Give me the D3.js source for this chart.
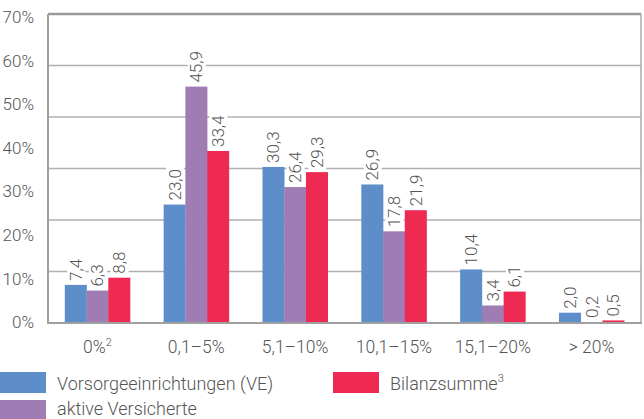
<!DOCTYPE html>
<html><head><meta charset="utf-8">
<script src="https://cdn.jsdelivr.net/npm/d3@7"></script>
<style>
body{margin:0;background:#fff;}
svg{display:block;font-family:Roboto,"Noto Sans",sans-serif;font-weight:300;}
</style></head>
<body><svg id="c" width="644" height="419"></svg>
<script>
const categories = ["0%", "0,1–5%", "5,1–10%", "10,1–15%", "15,1–20%", "> 20%"];
const categorySup = ["2", "", "", "", "", ""];
const seriesNames = ["Vorsorgeeinrichtungen (VE)", "aktive Versicherte", "Bilanzsumme"];
const seriesSup = ["", "", "3"];
const veValues = [7.4, 23.0, 30.3, 26.9, 10.4, 2.0];
const aktiveValues = [6.3, 45.9, 26.4, 17.8, 3.4, 0.2];
const bilanzValues = [8.8, 33.4, 29.3, 21.9, 6.1, 0.5];
const gridTicks = [0, 10, 20, 30, 40, 50, 60];
const yTickLabels = ["0%", "10%", "20%", "30%", "40%", "50%", "60%", "70%"];
const colors = ["#5d8ec9", "#a07cb5", "#ee2a52"];

const series = [veValues, aktiveValues, bilanzValues];
const svg = d3.select("#c");
const L = 48, R = 641, T = 14, B = 323;

const x = d3.scaleBand().domain(categories).range([L, R]).paddingInner(0.34).paddingOuter(0.17);
const xs = d3.scaleBand().domain([0,1,2]).range([0, x.bandwidth()]);
const y = d3.scaleLinear().domain([0, 60]).range([B, T]);
// tick labels as printed in the reference (evenly spaced 0–70%)
const yLab = d3.scaleLinear().domain([0, yTickLabels.length - 1]).range([B - 1, T + 3]);

// gridlines
svg.append("g").selectAll("line").data(gridTicks.slice(1, -1)).join("line")
  .attr("x1", L).attr("x2", R).attr("y1", d => y(d)).attr("y2", d => y(d))
  .attr("stroke", "#b0b0b0").attr("stroke-width", 1.5);
// frame
svg.append("line").attr("x1", L).attr("x2", R).attr("y1", y(60)).attr("y2", y(60)).attr("stroke", "#999").attr("stroke-width", 2.5);
svg.append("line").attr("x1", R).attr("x2", R).attr("y1", T).attr("y2", B).attr("stroke", "#aaa").attr("stroke-width", 1.5);

// y labels
svg.append("g").selectAll("text").data(yTickLabels).join("text")
  .attr("x", 34).attr("y", (d, i) => yLab(i)).attr("dy", "0.36em")
  .attr("text-anchor", "end").attr("font-size", 17).attr("fill", "#555").text(d => d);

// bars
const g = svg.append("g");
series.forEach((vals, si) => {
  g.selectAll(".b" + si).data(vals).join("rect")
    .attr("x", (d, i) => x(categories[i]) + xs(si))
    .attr("width", xs.bandwidth() + 0.3)
    .attr("y", d => y(d)).attr("height", d => B - y(d))
    .attr("fill", colors[si]);
});

// axes lines
svg.append("line").attr("x1", L).attr("x2", L).attr("y1", T).attr("y2", B + 1).attr("stroke", "#a0a0a0").attr("stroke-width", 2);
svg.append("line").attr("x1", L - 1).attr("x2", R + 1).attr("y1", B).attr("y2", B).attr("stroke", "#a0a0a0").attr("stroke-width", 2);

// value labels
const lg = svg.append("g");
series.forEach((vals, si) => {
  vals.forEach((v, i) => {
    const cx = x(categories[i]) + xs(si) + xs.bandwidth() / 2;
    const y0 = y(v) - 4;
    const t = lg.append("text")
      .attr("transform", `translate(${cx + 6},${y0}) rotate(-90)`)
      .attr("font-size", 17).attr("fill", "#555")
      .text(d3.format(".1f")(v).replace(".", ","));
    const bb = t.node().getBBox();
    lg.insert("rect", function(){ return t.node(); })
      .attr("x", cx - 8.5).attr("y", y0 - bb.width - 2)
      .attr("width", 18).attr("height", bb.width + 4)
      .attr("fill", "#fff");
  });
});

// x labels
const xl = svg.append("g").selectAll("text").data(categories).join("text")
  .attr("x", d => x(d) + x.bandwidth() / 2).attr("y", 353)
  .attr("text-anchor", "middle").attr("font-size", 17.5).attr("fill", "#555");
xl.append("tspan").text(d => d);
xl.append("tspan").attr("font-size", 11).attr("dy", -7).text((d, i) => categorySup[i]);

// legend
const legPos = [[0, 372, 390], [0, 400, 415], [333, 372, 390]];
seriesNames.forEach((n, si) => {
  const [lx, ly, ty] = legPos[si];
  svg.append("rect").attr("x", lx).attr("y", ly).attr("width", 46).attr("height", 21).attr("fill", colors[si]);
  const t = svg.append("text").attr("x", lx + 57).attr("y", ty).attr("font-size", 18).attr("fill", "#555");
  t.append("tspan").text(n);
  if (seriesSup[si]) t.append("tspan").attr("font-size", 11).attr("dy", -8).text(seriesSup[si]);
});
</script></body></html>
